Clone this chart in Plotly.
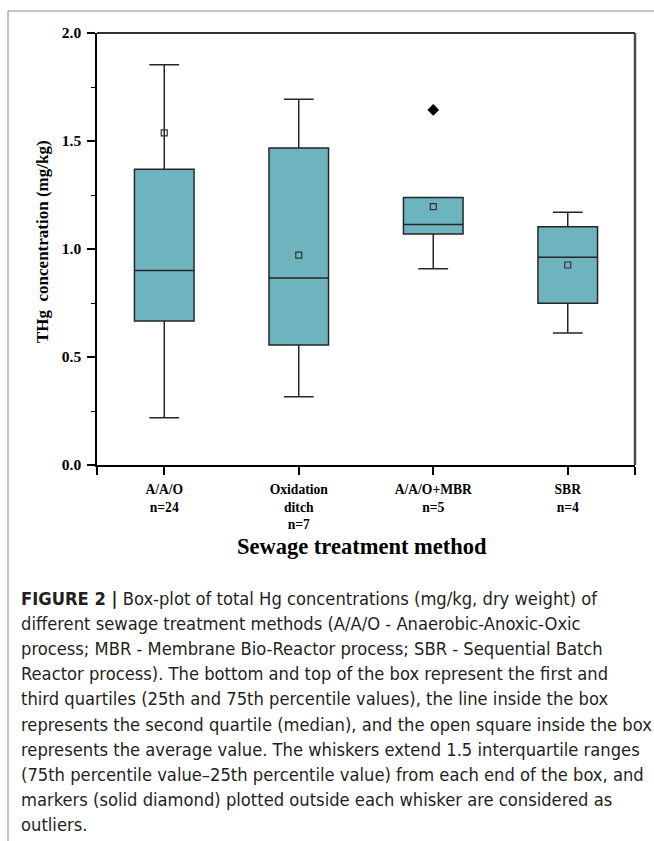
import plotly.graph_objects as go

# ---- data ----
categories = ["A/A/O<br>n=24", "Oxidation<br>ditch<br>n=7", "A/A/O+MBR<br>n=5", "SBR<br>n=4"]
cat_pos = [0, 1, 2, 3]
q1_vals = [0.667, 0.556, 1.069, 0.749]
median_vals = [0.900, 0.866, 1.113, 0.962]
q3_vals = [1.369, 1.468, 1.238, 1.103]
lower_whisker = [0.219, 0.316, 0.909, 0.611]
upper_whisker = [1.853, 1.693, 1.238, 1.170]
mean_vals = [1.538, 0.972, 1.196, 0.926]
outlier_pos = [2]
outlier_vals = [1.644]
y_ticks = [0.0, 0.5, 1.0, 1.5, 2.0]

caption_lines = [
    "<b>FIGURE 2 |</b> Box-plot of total Hg concentrations (mg/kg, dry weight) of",
    "different sewage treatment methods (A/A/O - Anaerobic-Anoxic-Oxic",
    "process; MBR - Membrane Bio-Reactor process; SBR - Sequential Batch",
    "Reactor process). The bottom and top of the box represent the first and",
    "third quartiles (25th and 75th percentile values), the line inside the box",
    "represents the second quartile (median), and the open square inside the box",
    "represents the average value. The whiskers extend 1.5 interquartile ranges",
    "(75th percentile value\u201325th percentile value) from each end of the box, and",
    "markers (solid diamond) plotted outside each whisker are considered as",
    "outliers.",
]

# ---- layout geometry (pixels) ----
W, H = 654, 841
L, R, T, B = 97, 635, 33, 465
pw, ph = R - L, B - T

def px(x):
    return (x - L) / pw

def py(y):
    return (B - y) / ph

BOX_COLOR = "#6db4be"
EDGE = "#262626"
SERIF = "Liberation Serif, Times New Roman, serif"
SANS = "DejaVu Sans Condensed, Liberation Sans, Arial, sans-serif"

fig = go.Figure()
fig.add_trace(go.Box(
    x=cat_pos, q1=q1_vals, median=median_vals, q3=q3_vals,
    lowerfence=lower_whisker, upperfence=upper_whisker,
    width=0.443, whiskerwidth=0.5,
    fillcolor=BOX_COLOR, line=dict(color=EDGE, width=1.5),
    boxpoints=False, showlegend=False, hoverinfo="skip",
))
fig.add_trace(go.Scatter(
    x=cat_pos, y=mean_vals, mode="markers",
    marker=dict(symbol="square-open", size=6, color="#333333", line=dict(width=1.2)),
    showlegend=False, hoverinfo="skip",
))
fig.add_trace(go.Scatter(
    x=outlier_pos, y=outlier_vals, mode="markers",
    marker=dict(symbol="diamond", size=9, color="black"),
    showlegend=False, hoverinfo="skip",
))

fig.update_xaxes(
    range=[-0.5, 3.5], tickmode="array", tickvals=cat_pos, ticktext=categories,
    ticks="outside", ticklen=8, tickwidth=1.5, tickcolor="black",
    showline=True, linecolor="black", linewidth=1.5, showgrid=False, zeroline=False,
    tickfont=dict(family=SERIF, size=13.6, color="black", weight="bold"),
    ticklabelstandoff=3,
    minor=dict(tickmode="array", tickvals=[-0.5, 3.5], ticks="outside", ticklen=8,
               tickwidth=1.5, tickcolor="black", showgrid=False),
)
fig.update_yaxes(
    range=[0, 2.0], tickmode="array", tickvals=y_ticks, tickformat=".1f",
    ticks="outside", ticklen=8, tickwidth=1.5, tickcolor="black",
    showline=True, linecolor="black", linewidth=1.5, showgrid=False, zeroline=False,
    tickfont=dict(family=SERIF, size=15.5, color="black", weight="bold"),
    ticklabelstandoff=3,
    minor=dict(dtick=0.25, tick0=0, ticks="outside", ticklen=4, tickwidth=1.2,
               tickcolor="black", showgrid=False),
)

shapes = [
    dict(type="line", xref="paper", yref="paper", x0=0, x1=1, y0=1, y1=1,
         line=dict(color="#333333", width=2)),
    dict(type="line", xref="paper", yref="paper", x0=1, x1=1, y0=0, y1=1,
         line=dict(color="#4a4a4a", width=2.5)),
    dict(type="line", xref="paper", yref="paper", x0=px(8), x1=px(654), y0=py(11), y1=py(11),
         line=dict(color="#8a8a8a", width=1)),
    dict(type="line", xref="paper", yref="paper", x0=px(8), x1=px(8), y0=py(11), y1=py(841),
         line=dict(color="#8a8a8a", width=1)),
]

annotations = [
    dict(text="THg  concentration (mg/kg)", xref="paper", yref="paper",
         x=px(42), y=py(242), textangle=-90, showarrow=False,
         font=dict(family=SERIF, size=17, color="black", weight="bold"),
         xanchor="center", yanchor="middle"),
    dict(text="Sewage treatment method", xref="paper", yref="paper",
         x=px(362), y=py(546), showarrow=False,
         font=dict(family=SERIF, size=22.5, color="black", weight="bold"),
         xanchor="center", yanchor="middle"),
]
for i, line in enumerate(caption_lines):
    annotations.append(dict(
        text=line, xref="paper", yref="paper", x=px(19), y=py(598 + 25.2 * i),
        showarrow=False, xanchor="left", yanchor="middle", align="left",
        font=dict(family=SANS, size=18.2, color="#231f20"),
    ))

fig.update_layout(
    width=W, height=H,
    margin=dict(l=L, r=W - R, t=T, b=H - B, pad=0),
    paper_bgcolor="white", plot_bgcolor="white",
    shapes=shapes, annotations=annotations,
)

fig.write_html("out.html", config={"displayModeBar": False},
               post_script="document.body.style.margin='0';")
